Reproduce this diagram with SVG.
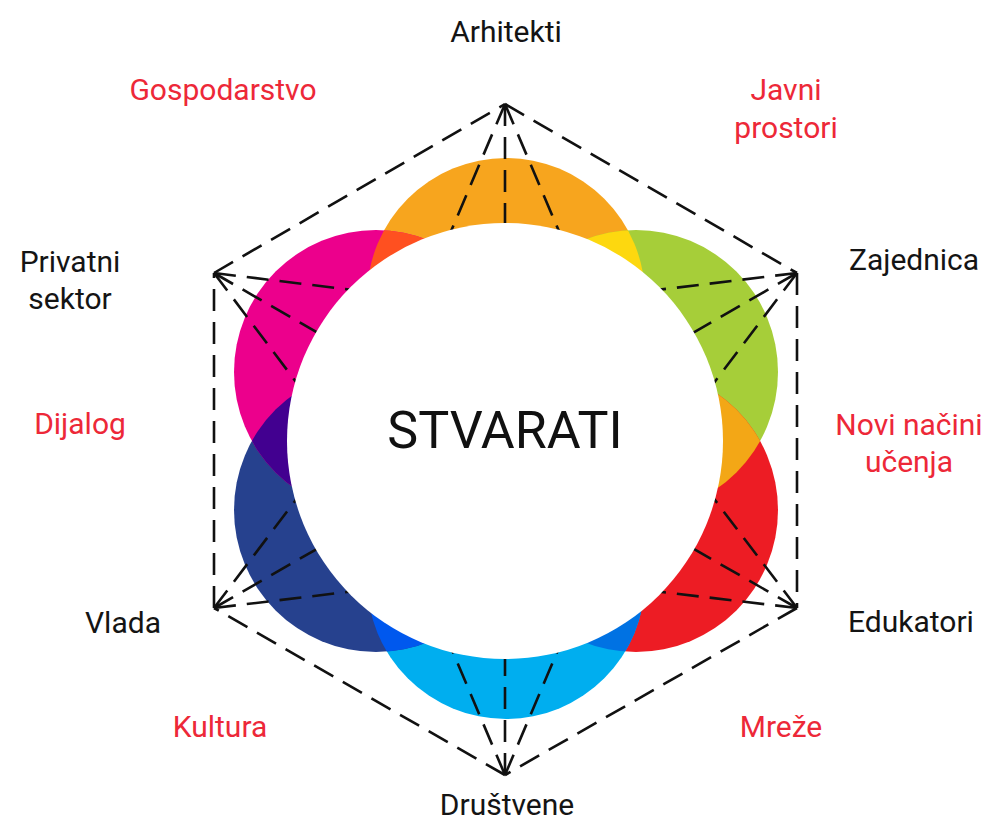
<svg xmlns="http://www.w3.org/2000/svg" width="989" height="821" viewBox="0 0 989 821">
<style>
.lbl{font-family:Roboto,"Liberation Sans",sans-serif;font-size:30px;text-anchor:middle;fill:#141414}
.red{fill:#ED2838}
.title{font-family:Roboto,"Liberation Sans",sans-serif;font-size:52px;text-anchor:middle;fill:#111}
.dash{stroke:#111;stroke-width:2.6;stroke-dasharray:22 11;fill:none}
</style>
<defs>
<clipPath id="cTop"><circle cx="506" cy="297" r="139"/></clipPath>
<clipPath id="cGreen"><circle cx="636" cy="372" r="142"/></clipPath>
<clipPath id="cRed"><circle cx="636" cy="510" r="142"/></clipPath>
<clipPath id="cBot"><circle cx="506" cy="580" r="139"/></clipPath>
<clipPath id="cNavy"><circle cx="376" cy="510" r="142"/></clipPath>
<clipPath id="cMag"><circle cx="376" cy="372" r="142"/></clipPath>
</defs>
<g id="petals">
<circle id="petal-top" cx="506" cy="297" r="139" fill="#F7A51E"/>
<circle id="petal-green" cx="636" cy="372" r="142" fill="#A6CE39"/>
<circle id="petal-red" cx="636" cy="510" r="142" fill="#ED1C24"/>
<circle id="petal-bottom" cx="506" cy="580" r="139" fill="#00AEEF"/>
<circle id="petal-navy" cx="376" cy="510" r="142" fill="#26418E"/>
<circle id="petal-magenta" cx="376" cy="372" r="142" fill="#EC008C"/>
<circle cx="376" cy="372" r="142" fill="#FF5020" clip-path="url(#cTop)"/>
<circle cx="636" cy="372" r="142" fill="#FDD80F" clip-path="url(#cTop)"/>
<circle cx="636" cy="510" r="142" fill="#F3A716" clip-path="url(#cGreen)"/>
<circle cx="506" cy="580" r="139" fill="#0072E3" clip-path="url(#cRed)"/>
<circle cx="506" cy="580" r="139" fill="#0058EE" clip-path="url(#cNavy)"/>
<circle cx="376" cy="510" r="142" fill="#420090" clip-path="url(#cMag)"/>
</g>
<g id="connectors">
<g id="fans">
<line class="dash" x1="505" y1="104" x2="505" y2="284"/>
<line class="dash" x1="505" y1="104" x2="434.7" y2="269.7"/>
<line class="dash" x1="505" y1="104" x2="575.3" y2="269.7"/>
<line class="dash" x1="797" y1="273" x2="641" y2="362.8"/>
<line class="dash" x1="797" y1="273" x2="618.3" y2="294.7"/>
<line class="dash" x1="797" y1="273" x2="688.5" y2="416.6"/>
<line class="dash" x1="797" y1="608" x2="640.7" y2="518.6"/>
<line class="dash" x1="797" y1="608" x2="688.1" y2="464.7"/>
<line class="dash" x1="797" y1="608" x2="618.2" y2="586.8"/>
<line class="dash" x1="505" y1="775" x2="505" y2="595"/>
<line class="dash" x1="505" y1="775" x2="434.7" y2="609.3"/>
<line class="dash" x1="505" y1="775" x2="575.3" y2="609.3"/>
<line class="dash" x1="214" y1="608" x2="370.1" y2="518.4"/>
<line class="dash" x1="214" y1="608" x2="392.7" y2="586.5"/>
<line class="dash" x1="214" y1="608" x2="322.7" y2="464.5"/>
<line class="dash" x1="214" y1="273" x2="369.9" y2="363"/>
<line class="dash" x1="214" y1="273" x2="322.3" y2="416.8"/>
<line class="dash" x1="214" y1="273" x2="392.7" y2="294.9"/>
</g>
<g id="hexagon">
<line class="dash" x1="505" y1="104" x2="797" y2="273"/>
<line class="dash" x1="797" y1="273" x2="797" y2="608"/>
<line class="dash" x1="797" y1="608" x2="505" y2="775"/>
<line class="dash" x1="505" y1="775" x2="214" y2="608"/>
<line class="dash" x1="214" y1="608" x2="214" y2="273"/>
<line class="dash" x1="214" y1="273" x2="505" y2="104"/>
</g>
</g>
<g id="center">
<circle cx="505" cy="441" r="218" fill="#FFFFFF"/>
<text class="title" x="505" y="448">STVARATI</text>
</g>
<g id="arhitekti"><text class="lbl" x="506" y="42">Arhitekti</text></g>
<g id="zajednica"><text class="lbl" x="914" y="270">Zajednica</text></g>
<g id="edukatori"><text class="lbl" x="911" y="632">Edukatori</text></g>
<g id="drustvene"><text class="lbl" x="507" y="815">Društvene</text></g>
<g id="vlada"><text class="lbl" x="123" y="633">Vlada</text></g>
<g id="privatni-sektor"><text class="lbl" x="70" y="272">Privatni</text><text class="lbl" x="70" y="309">sektor</text></g>
<g id="gospodarstvo"><text class="lbl red" x="223" y="100">Gospodarstvo</text></g>
<g id="javni-prostori"><text class="lbl red" x="786" y="100">Javni</text><text class="lbl red" x="786" y="138">prostori</text></g>
<g id="novi-nacini"><text class="lbl red" x="909" y="435">Novi načini</text><text class="lbl red" x="909" y="472">učenja</text></g>
<g id="mreze"><text class="lbl red" x="781" y="737">Mreže</text></g>
<g id="kultura"><text class="lbl red" x="220" y="737">Kultura</text></g>
<g id="dijalog"><text class="lbl red" x="80" y="434">Dijalog</text></g>
</svg>
